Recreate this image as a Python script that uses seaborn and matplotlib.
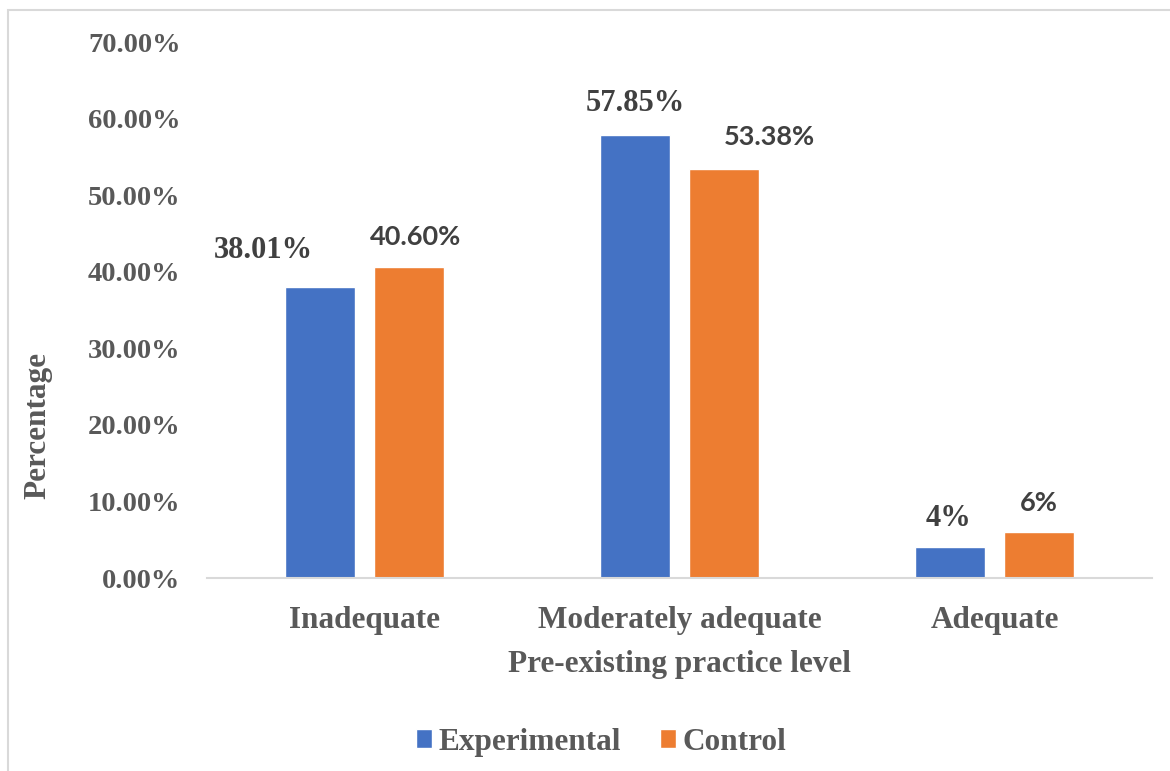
import matplotlib
matplotlib.use("Agg")
import matplotlib.pyplot as plt
import seaborn as sns
import pandas as pd
from matplotlib.patches import Rectangle
from matplotlib.ticker import FuncFormatter

# ---- data ----
levels = ["Inadequate", "Moderately adequate", "Adequate"]
groups = ["Experimental", "Control"]
experimental = [38.01, 57.85, 4.0]
control = [40.60, 53.38, 6.0]
experimental_labels = ["38.01%", "57.85%", "4%"]
control_labels = ["40.60%", "53.38%", "6%"]
y_ticks = [0, 10, 20, 30, 40, 50, 60, 70]

df = pd.DataFrame({
    "level": levels * 2,
    "group": [groups[0]] * len(levels) + [groups[1]] * len(levels),
    "pct": experimental + control,
})

# ---- style ----
BLUE = "#4472C4"
ORANGE = "#ED7D31"
TICK_GREY = "#595959"
LABEL_DARK = "#404040"
AXIS_GREY = "#D9D9D9"

sns.set_theme(style="white")
plt.rcParams["font.family"] = ["Liberation Serif", "DejaVu Serif"]

fig = plt.figure(figsize=(11.7, 7.71), dpi=100)
W, H = 1170, 771
ax = fig.add_axes([207 / W, 1 - 578 / H, 945 / W, 536 / H])

sns.barplot(
    data=df, x="level", y="pct", hue="group",
    order=levels, hue_order=groups,
    palette=[BLUE, ORANGE], saturation=1,
    width=0.564, gap=0.213, ax=ax,
)

ax.set_xlim(-0.5, len(levels) - 0.5)
ax.set_ylim(0, 70)
ax.set_yticks(y_ticks)
ax.yaxis.set_major_formatter(FuncFormatter(lambda v, _: f"{v:.2f}%"))

for side in ("top", "right", "left"):
    ax.spines[side].set_visible(False)
ax.spines["bottom"].set_color(AXIS_GREY)
ax.spines["bottom"].set_linewidth(1.5)

ax.tick_params(axis="y", length=0, pad=19, labelsize=20.5, labelcolor=TICK_GREY)
ax.tick_params(axis="x", length=0, pad=20.5, labelsize=22.5, labelcolor=TICK_GREY)
for lbl in ax.get_yticklabels() + ax.get_xticklabels():
    lbl.set_fontweight("bold")

ax.set_xlabel("Pre-existing practice level", fontsize=22.5, fontweight="bold",
              color=TICK_GREY, va="center")
ax.xaxis.set_label_coords(0.5, -0.161)
ax.set_ylabel("Percentage", fontsize=22.5, fontweight="bold",
              color=TICK_GREY, va="center", ha="center")
ax.yaxis.set_label_coords(-0.179, 0.285)

# ---- value labels (offsets in points from each bar's top centre) ----
exp_offsets = [(-41, 26), (0, 22.5), (-1.5, 21)]
ctrl_offsets = [(5, 22), (33, 23), (0, 21)]

for bar, text, (dx, dy) in zip(ax.containers[0], experimental_labels, exp_offsets):
    ax.annotate(text, (bar.get_x() + bar.get_width() / 2, bar.get_height()),
                xytext=(dx, dy), textcoords="offset points",
                ha="center", va="center", fontsize=22, fontweight="bold",
                color=LABEL_DARK, family=["Liberation Serif", "DejaVu Serif"])
for bar, text, (dx, dy) in zip(ax.containers[1], control_labels, ctrl_offsets):
    ax.annotate(text, (bar.get_x() + bar.get_width() / 2, bar.get_height()),
                xytext=(dx, dy), textcoords="offset points",
                ha="center", va="center", fontsize=19.5, fontweight="bold",
                color=LABEL_DARK, family=["Lato", "DejaVu Sans"])

# ---- legend ----
sns.move_legend(
    ax, "center", bbox_to_anchor=(0.417, -0.306), ncol=2, frameon=False,
    title=None, fontsize=22.5, handlelength=0.52, handleheight=0.52,
    handletextpad=0.2, columnspacing=1.25,
)
for t in ax.get_legend().get_texts():
    t.set_color(TICK_GREY)
    t.set_fontweight("bold")

# ---- chart-area border ----
fig.add_artist(Rectangle((8 / W, -0.1), 1.2, (H - 10) / H + 0.1,
                         transform=fig.transFigure, fill=False,
                         edgecolor=AXIS_GREY, linewidth=1.5))

fig.savefig("out.png", dpi=100, facecolor="white")
